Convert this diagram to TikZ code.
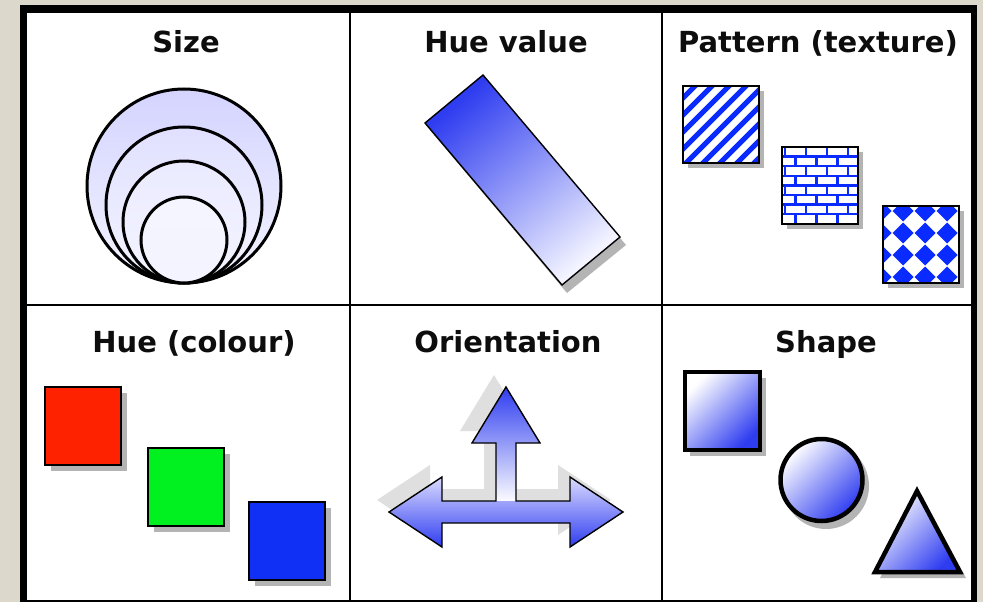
\documentclass[tikz,border=0pt]{standalone}
\usepackage{fontspec}
\setmainfont{DejaVu Sans}
\usetikzlibrary{shapes.geometric}
\definecolor{bgMarble}{HTML}{DCD8CB}
\definecolor{hueRed}{HTML}{FF2200}
\definecolor{hueGreen}{HTML}{00F020}
\definecolor{hueBlue}{HTML}{1030F5}
\definecolor{shadeBlue}{HTML}{2F3DF0}
\definecolor{paleBlue}{HTML}{F3F4FF}
\definecolor{patBlue}{HTML}{0A2BFF}
\definecolor{dropGrey}{HTML}{B4B4B4}
\tikzset{
  celltitle/.style={anchor=base, inner sep=0pt, text=black!95,
    font=\bfseries\fontsize{29}{32}\selectfont},
  gridline/.style={line width=2pt, draw=black},
  dropshadow/.style={fill=dropGrey, draw=none},
  swatch/.style={draw=black, line width=2pt},
  sizering/.style={draw=black, line width=3pt, top color=#1, bottom color=paleBlue},
  huebar/.style={draw=black, line width=1.4pt, top color=shadeBlue,
    bottom color=paleBlue, shading angle=40},
  patline/.style={draw=patBlue, line width=#1},
  solidshape/.style={draw=black, line width=4.5pt, bottom color=shadeBlue,
    top color=white, shading angle=45},
  orientline/.style={draw=black, line width=1.4pt, line join=miter}
}

\begin{document}
\begin{tikzpicture}[x=1pt, y=-1pt]
  % page, frame and grid
  \fill[bgMarble] (0,0) rectangle (983,602);
  \fill[black] (20,5) rectangle (977,602);
  \fill[white] (27,13) rectangle (971,600);
  \draw[gridline] (350,13) -- (350,600);
  \draw[gridline] (662,13) -- (662,600);
  \draw[gridline] (27,305) -- (971,305);

  % titles
  \node[celltitle] (tSize) at (186,53) {Size};
  \node[celltitle] (tHueValue) at (506,53) {Hue value};
  \node[celltitle] (tPattern) at (818,53) {Pattern (texture)};
  \node[celltitle] (tHueColour) at (194,352) {Hue (colour)};
  \node[celltitle] (tOrientation) at (508,352) {Orientation};
  \node[celltitle] (tShape) at (826,352) {Shape};

  % size: rings touching at the bottom
  \foreach \r/\c in {97/blue!17, 78/blue!12, 61/blue!8, 43/blue!4}{
    \path[sizering=\c] (184,283-\r) circle[radius=\r pt];
  }

  % hue value
  \fill[dropshadow] (488,82) -- (626,245) -- (567,293) -- (430,130) -- cycle;
  \path[huebar] (483,75) -- (620,237) -- (562,285) -- (425,123) -- cycle;

  % pattern squares
  \foreach \x/\y in {683/86, 782/147, 883/206}{
    \fill[dropshadow] (\x+5,\y+5) rectangle (\x+81,\y+82);
    \fill[white] (\x,\y) rectangle (\x+76,\y+77);
  }
  \begin{scope}
    \clip (683,86) rectangle (759,163);
    \foreach \i in {-6,...,5}{
      \draw[patline=5pt] (683+17*\i,166) -- ++(84,-84);
    }
  \end{scope}
  \begin{scope}
    \clip (782,147) rectangle (858,224);
    \foreach \k in {1,...,7}{
      \draw[patline=2.4pt] (782,147+9.6*\k) -- (858,147+9.6*\k);
    }
    \foreach \k in {0,...,7}{
      \pgfmathsetmacro{\off}{mod(\k,2)*10.5}
      \foreach \m in {0,...,3}{
        \draw[patline=2.4pt] (785+\off+21*\m,147+9.6*\k) -- ++(0,9.6);
      }
    }
  \end{scope}
  \begin{scope}
    \clip (883,206) rectangle (959,283);
    \foreach \x in {881,903,925,947,969}{
      \foreach \y in {189,211,233,255,277,299}{
        \fill[patBlue] (\x,\y-10.5) -- (\x+10.5,\y) -- (\x,\y+10.5) -- (\x-10.5,\y) -- cycle;
      }
    }
  \end{scope}
  \foreach \x/\y in {683/86, 782/147, 883/206}{
    \draw[swatch] (\x,\y) rectangle (\x+76,\y+77);
  }

  % hue (colour) squares
  \foreach \x/\y/\c in {45/387/hueRed, 148/448/hueGreen, 249/502/hueBlue}{
    \fill[dropshadow] (\x+6,\y+6) rectangle (\x+82,\y+84);
    \draw[swatch, fill=\c] (\x,\y) rectangle (\x+76,\y+78);
  }

  % orientation arrows
  \fill[gray!45, opacity=.55, shift={(-12,-12)}]
    (506,387) -- (540,443) -- (516,443) -- (516,501) -- (570,501) -- (570,477)
    -- (623,512) -- (570,547) -- (570,523) -- (442,523) -- (442,547) -- (389,512)
    -- (442,477) -- (442,501) -- (496,501) -- (496,443) -- (472,443) -- cycle;
  \shade[top color=shadeBlue, bottom color=white]
    (506,387) -- (540,443) -- (516,443) -- (516,503) -- (496,503) -- (496,443)
    -- (472,443) -- cycle;
  \shade[top color=blue!14, middle color=white, bottom color=shadeBlue]
    (442,477) -- (442,501) -- (570,501) -- (570,477) -- (623,512) -- (570,547)
    -- (570,523) -- (442,523) -- (442,547) -- (389,512) -- cycle;
  \draw[orientline]
    (506,387) -- (540,443) -- (516,443) -- (516,501) -- (570,501) -- (570,477)
    -- (623,512) -- (570,547) -- (570,523) -- (442,523) -- (442,547) -- (389,512)
    -- (442,477) -- (442,501) -- (496,501) -- (496,443) -- (472,443) -- cycle;

  % shapes
  \fill[dropshadow] (690,378) rectangle (766,456);
  \fill[dropshadow] (826,486) circle[radius=43pt];
  \fill[dropshadow] (922,496) -- (966,578) -- (880,578) -- cycle;
  \path[solidshape] (685,372) rectangle (760,450);
  \path[solidshape] (821.5,480) circle[radius=41pt];
  \path[solidshape, line join=miter] (917,491) -- (960,572) -- (875,572) -- cycle;
\end{tikzpicture}
\end{document}
